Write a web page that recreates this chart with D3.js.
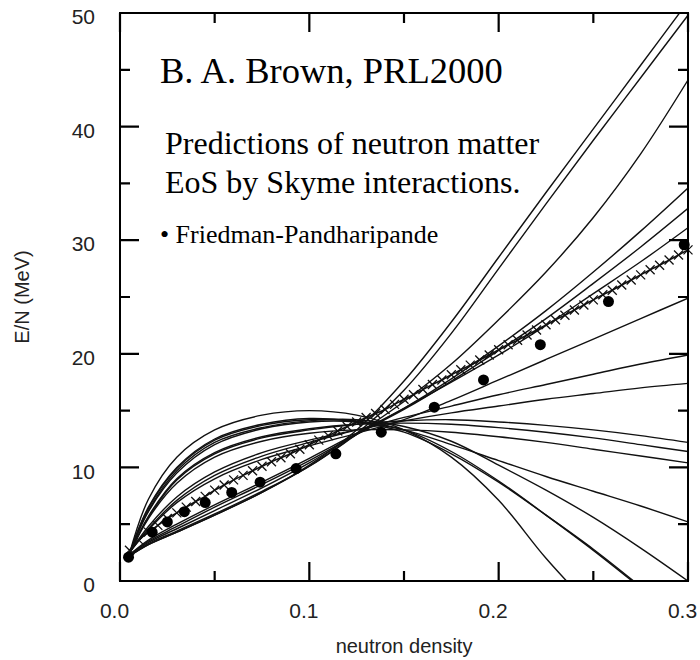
<!DOCTYPE html>
<html>
<head>
<meta charset="utf-8">
<script src="https://cdn.jsdelivr.net/npm/d3@7"></script>
<style>
  body { margin: 0; background: #fff; }
  svg { display: block; }
  .tick text { font-family: "Liberation Sans", Arial, sans-serif; font-size: 21px; fill: #222; }
  .domain { display: none; }
  .note { font-family: "Liberation Serif", "Times New Roman", serif; fill: #000; }
  .title { font-family: "Liberation Sans", Arial, sans-serif; font-size: 20px; fill: #222; }
</style>
</head>
<body>
<svg width="700" height="660"></svg>
<script>
var density = [0.005, 0.015, 0.03, 0.05, 0.075, 0.1, 0.125, 0.15, 0.175, 0.2, 0.225, 0.25, 0.275, 0.3];

// Skyrme predictions, E/N in MeV (null = curve has left the frame)
var skyrmeA1 = [2.2, 3.2, 4.3, 5.8, 7.8, 10.2, 13.3, 17.6, 22.8, 28.5, 34.2, 39.8, 45.4, 51.0];
var skyrmeA2 = [2.2, 3.2, 4.3, 5.8, 7.8, 10.1, 13.0, 16.8, 21.8, 27.5, 33.2, 38.8, 44.3, 49.8];
var skyrmeA3 = [2.2, 3.3, 4.4, 5.9, 7.9, 10.1, 12.9, 15.8, 19.1, 23.0, 27.2, 32.0, 37.6, 44.1];
var skyrmeA4 = [2.3, 3.4, 4.6, 6.2, 8.2, 10.4, 12.9, 15.2, 17.8, 20.7, 23.8, 27.2, 30.8, 34.6];
var skyrmeA5 = [2.3, 3.5, 4.8, 6.5, 8.5, 10.6, 12.9, 15.1, 17.6, 20.3, 23.1, 26.2, 29.4, 32.8];
var skyrmeA6 = [2.3, 3.6, 5.0, 6.7, 8.7, 10.8, 13.0, 15.2, 17.5, 19.9, 22.5, 25.3, 28.1, 31.1];
var skyrmeB1 = [2.5, 4.5, 6.9, 9.0, 10.7, 11.9, 13.0, 14.2, 15.9, 17.7, 19.5, 21.3, 23.1, 24.9];
var skyrmeB2 = [2.5, 4.6, 7.1, 9.3, 11.0, 12.2, 13.3, 14.4, 15.4, 16.4, 17.3, 18.2, 19.1, 19.9];
var skyrmeB3 = [2.5, 4.8, 7.4, 9.6, 11.3, 12.4, 13.3, 14.1, 14.8, 15.4, 16.0, 16.5, 17.0, 17.4];
var skyrmeC1 = [2.4, 5.6, 8.9, 11.2, 12.6, 13.3, 13.8, 14.1, 14.2, 14.0, 13.7, 13.3, 12.8, 12.2];
var skyrmeC2 = [2.4, 5.7, 9.0, 11.3, 12.7, 13.4, 13.8, 13.9, 13.8, 13.5, 13.1, 12.6, 12.0, 11.4];
var skyrmeC3 = [2.4, 5.5, 8.6, 10.9, 12.3, 13.0, 13.3, 13.3, 13.1, 12.7, 12.2, 11.6, 11.0, 10.4];
var skyrmeC4 = [2.4, 6.1, 9.5, 12.0, 13.4, 14.0, 14.0, 13.3, 12.0, 10.6, 9.2, 7.9, 6.6, 5.2];
var skyrmeD0 = [2.4, 6.2, 9.7, 12.2, 13.5, 14.1, 14.2, 13.6, 12.3, 10.2, 8.0, 5.6, 2.9, 0.0];
var skyrmeD1 = [2.4, 7.2, 10.9, 13.3, 14.6, 15.0, 14.6, 13.3, 10.9, 7.1, 2.0, -2.5, null, null];
var skyrmeD2 = [2.4, 6.4, 9.9, 12.4, 13.7, 14.2, 14.1, 13.3, 11.4, 8.8, 5.8, 2.7, -0.6, null];
var skyrmeD3 = [2.4, 6.5, 10.0, 12.5, 13.8, 14.3, 14.0, 13.1, 11.2, 8.7, 5.8, 2.8, -0.5, null];

var skyrmeCurves = [skyrmeA1, skyrmeA2, skyrmeA3, skyrmeA4, skyrmeA5, skyrmeA6,
                    skyrmeB1, skyrmeB2, skyrmeB3, skyrmeC1, skyrmeC2, skyrmeC3,
                    skyrmeC4, skyrmeD0, skyrmeD1, skyrmeD2, skyrmeD3];

// crossed line, one mark every 0.005 fm^-3 starting at 0.005
var crossEnergy = [2.7, 3.6, 4.3, 4.9, 5.5, 6.0, 6.5, 7.0, 7.45, 8.0,
                   8.45, 8.9, 9.3, 9.7, 10.1, 10.5, 10.85, 11.2, 11.6, 12.0,
                   12.4, 12.8, 13.2, 13.6, 14.0, 14.4, 14.75, 15.1, 15.55, 16.0,
                   16.4, 16.85, 17.3, 17.7, 18.15, 18.6, 19.0, 19.45, 19.9, 20.35,
                   20.8, 21.2, 21.65, 22.1, 22.55, 23.0, 23.4, 23.85, 24.3, 24.75,
                   25.2, 25.6, 26.05, 26.5, 26.95, 27.4, 27.8, 28.25, 28.7, 29.15];

// Friedman-Pandharipande points
var fpDensity = [0.0045, 0.017, 0.025, 0.034, 0.045, 0.059, 0.074, 0.093, 0.114, 0.138, 0.166, 0.192, 0.222, 0.258, 0.298];
var fpEnergy  = [2.1, 4.3, 5.2, 6.1, 6.9, 7.8, 8.7, 9.9, 11.2, 13.1, 15.3, 17.7, 20.8, 24.6, 29.6];

var xMajor = [0, 0.1, 0.2, 0.3],
    xMinor = [0.05, 0.15, 0.25],
    yMajor = [0, 10, 20, 30, 40, 50],
    yMinor = [5, 15, 25, 35, 45];

var svg = d3.select("svg"),
    frame = {left: 120, right: 688, top: 13, bottom: 581};

var x = d3.scaleLinear().domain([0, 0.3]).range([frame.left, frame.right]),
    y = d3.scaleLinear().domain([0, 50]).range([frame.bottom, frame.top]);

svg.append("defs").append("clipPath")
   .attr("id", "clip")
   .append("rect")
   .attr("x", frame.left).attr("y", frame.top)
   .attr("width", frame.right - frame.left).attr("height", frame.bottom - frame.top);

var plot = svg.append("g").attr("clip-path", "url(#clip)");

var line = d3.line()
             .defined(function(d) { return d[1] != null; })
             .x(function(d) { return x(d[0]); })
             .y(function(d) { return y(d[1]); })
             .curve(d3.curveCatmullRom);

skyrmeCurves.forEach(function(c) {
  plot.append("path")
    .datum(c.map(function(v, i) { return [density[i], v]; }))
    .attr("d", line)
    .attr("fill", "none")
    .attr("stroke", "#111")
    .attr("stroke-width", 1.4);
});

var crossData = crossEnergy.map(function(v, i) { return [0.005 * (i + 1), v]; });

plot.append("path")
  .datum(crossData)
  .attr("d", line)
  .attr("fill", "none")
  .attr("stroke", "#111")
  .attr("stroke-width", 1.6);

var s = 4.5;
svg.append("g").selectAll("path")
  .data(crossData)
  .enter().append("path")
  .attr("transform", function(d) { return "translate(" + x(d[0]) + "," + y(d[1]) + ")"; })
  .attr("d", "M" + -s + "," + -s + "L" + s + "," + s + "M" + -s + "," + s + "L" + s + "," + -s)
  .attr("stroke", "#111")
  .attr("stroke-width", 1.3);

svg.append("g").selectAll("circle")
  .data(fpDensity)
  .enter().append("circle")
  .attr("cx", function(d) { return x(d); })
  .attr("cy", function(d, i) { return y(fpEnergy[i]); })
  .attr("r", 5.5)
  .attr("fill", "#000");

// tick labels from d3 axes (tick lines drawn below)
var xAxis = svg.append("g").attr("transform", "translate(0," + frame.bottom + ")")
  .call(d3.axisBottom(x).tickValues(xMajor).tickSize(0).tickPadding(22).tickFormat(d3.format(".1f")));
xAxis.selectAll("text").attr("dx", -6).attr("dy", "0.71em");
var yAxis = svg.append("g").attr("transform", "translate(" + frame.left + ",0)")
  .call(d3.axisLeft(y).tickValues(yMajor).tickSize(0).tickPadding(25));
yAxis.selectAll("text").attr("y", 4);

// inward ticks on all four sides, as one path
var tickPath = d3.path();
function xTicks(values, len) {
  values.forEach(function(v) {
    tickPath.moveTo(x(v), frame.bottom); tickPath.lineTo(x(v), frame.bottom - len);
    tickPath.moveTo(x(v), frame.top);    tickPath.lineTo(x(v), frame.top + len);
  });
}
function yTicks(values, len) {
  values.forEach(function(v) {
    tickPath.moveTo(frame.left, y(v));  tickPath.lineTo(frame.left + len, y(v));
    tickPath.moveTo(frame.right, y(v)); tickPath.lineTo(frame.right - len, y(v));
  });
}
xTicks(xMajor, 19);
xTicks(xMinor, 10);
yTicks(yMajor, 19);
yTicks(yMinor, 10);

svg.append("path")
  .attr("d", tickPath.toString())
  .attr("fill", "none")
  .attr("stroke", "#000")
  .attr("stroke-width", 2.2);

svg.append("rect")
  .attr("x", frame.left).attr("y", frame.top)
  .attr("width", frame.right - frame.left).attr("height", frame.bottom - frame.top)
  .attr("fill", "none")
  .attr("stroke", "#000")
  .attr("stroke-width", 2);

svg.append("text").attr("class", "title")
  .attr("transform", "translate(" + 404 + "," + 653 + ")")
  .attr("text-anchor", "middle")
  .text("neutron density");

svg.append("text").attr("class", "title")
  .attr("transform", "translate(" + 29 + "," + 297 + ") rotate(-90)")
  .attr("text-anchor", "middle")
  .text("E/N (MeV)");

svg.append("text").attr("class", "note")
  .attr("x", 160).attr("y", 83).style("font-size", "36.5px")
  .text("B. A. Brown, PRL2000");
svg.append("text").attr("class", "note")
  .attr("x", 165).attr("y", 154).style("font-size", "32px")
  .text("Predictions of neutron matter");
svg.append("text").attr("class", "note")
  .attr("x", 165).attr("y", 193).style("font-size", "32px")
  .text("EoS by Skyme interactions.");
svg.append("text").attr("class", "note")
  .attr("x", 160).attr("y", 243).style("font-size", "26px")
  .text("• Friedman-Pandharipande");
</script>
</body>
</html>
